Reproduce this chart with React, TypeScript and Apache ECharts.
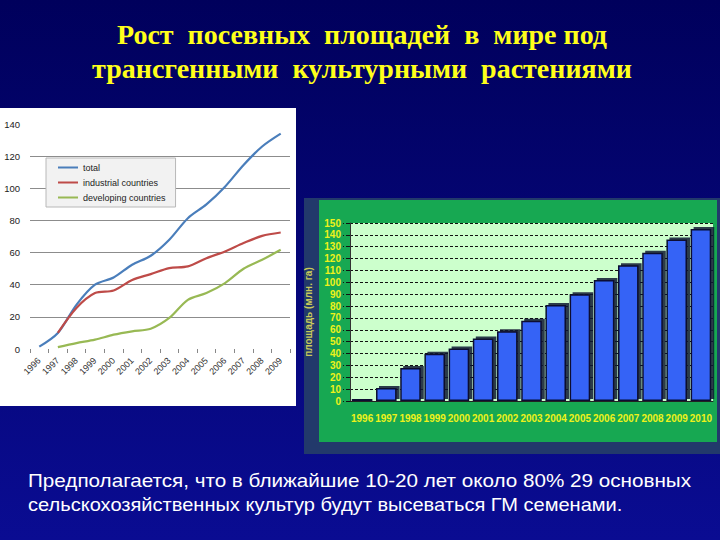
import React, { useEffect, useRef } from "react";
import * as echarts from "echarts";

const titleLines = [
  "Рост  посевных  площадей  в  мире под",
  "трансгенными  культурными  растениями",
];
const noteLines = [
  "Предполагается, что в ближайшие 10-20 лет около 80% 29 основных",
  "сельскохозяйственных культур будут высеваться ГМ семенами.",
];

const lineYears = ["1996", "1997", "1998", "1999", "2000", "2001", "2002", "2003", "2004", "2005", "2006", "2007", "2008", "2009"];
const totalValues = [1.5, 10, 27.5, 40, 44.5, 52.4, 58, 68, 81.4, 90, 101, 114.5, 126, 134];
const industrialValues = [null, 10, 25.5, 34.8, 36.4, 43, 46.6, 50.3, 51.4, 56.5, 60.7, 65.9, 70.4, 72.5];
const developingValues = [null, 1.2, 3.7, 5.8, 8.9, 11, 12.6, 19.3, 30.6, 34.8, 41, 49.9, 55.5, 61.7];
const lineNames = ["total", "industrial countries", "developing countries"];

const barYears = ["1996", "1997", "1998", "1999", "2000", "2001", "2002", "2003", "2004", "2005", "2006", "2007", "2008", "2009", "2010"];
const barValues = [1.7, 11, 27.8, 39.9, 44.2, 52.6, 58.7, 67.7, 81, 90, 102, 114.3, 125, 136, 145];
const barAxisName = "площадь (млн. га)";

export default function App() {
  const ref = useRef<HTMLDivElement>(null);
  useEffect(() => {
    if (!ref.current) return;
    const chart = echarts.init(ref.current, undefined, { renderer: "svg" });
    const sans = "Liberation Sans, Arial, sans-serif";
    const yellowBold = { color: "#eef21a", fontWeight: "bold" as const, fontFamily: sans, fontSize: 10 };
    const titleFont = "bold 28px 'Liberation Serif', 'Times New Roman', serif";
    const noteFont = "18px 'Liberation Sans', Arial, sans-serif";
    chart.setOption({
      animation: false,
      backgroundColor: {
        type: "linear", x: 0, y: 0, x2: 0, y2: 1,
        colorStops: [
          { offset: 0, color: "#00005c" },
          { offset: 1, color: "#0a0c92" },
        ],
      },
      graphic: [
        { type: "rect", z: -10, shape: { x: 0, y: 108, width: 296, height: 298 }, style: { fill: "#ffffff" } },
        { type: "rect", z: -10, shape: { x: 304, y: 198, width: 416, height: 256 }, style: { fill: "#22396b" } },
        { type: "rect", z: -9, shape: { x: 319, y: 200, width: 398, height: 242 }, style: { fill: "#17a852" } },
        {
          type: "text", z: 100, x: 362, y: 34, scaleX: 1.0,
          style: { text: titleLines[0], fill: "#ffff1a", font: titleFont, textAlign: "center", textVerticalAlign: "middle" },
        },
        {
          type: "text", z: 100, x: 362, y: 68, scaleX: 1.0,
          style: { text: titleLines[1], fill: "#ffff1a", font: titleFont, textAlign: "center", textVerticalAlign: "middle" },
        },
        {
          type: "text", z: 100, x: 28, y: 480, scaleX: 1.148,
          style: { text: noteLines[0], fill: "#ffffff", font: noteFont, textAlign: "left", textVerticalAlign: "middle" },
        },
        {
          type: "text", z: 100, x: 28, y: 505, scaleX: 1.114,
          style: { text: noteLines[1], fill: "#ffffff", font: noteFont, textAlign: "left", textVerticalAlign: "middle" },
        },
      ],
      legend: {
        data: lineNames,
        orient: "vertical",
        left: 46,
        top: 158,
        icon: "rect",
        backgroundColor: "#f2f2f2",
        borderColor: "#b8b8b8",
        borderWidth: 1,
        padding: [4, 10, 4, 12],
        itemGap: 4,
        itemWidth: 20,
        itemHeight: 2,
        textStyle: { fontSize: 9, lineHeight: 11, color: "#222", fontFamily: sans },
      },
      grid: [
        { left: 30, width: 260, top: 124, height: 225 },
        { left: 350, width: 363, top: 223, height: 178, show: true, backgroundColor: "#ccffcc", borderWidth: 0 },
      ],
      xAxis: [
        {
          type: "category", gridIndex: 0, data: lineYears, boundaryGap: true,
          axisLine: { show: false },
          axisTick: { show: true, length: 4, lineStyle: { color: "#888" } },
          axisLabel: { rotate: 45, fontSize: 9, color: "#333", margin: 10, interval: 0, fontFamily: sans },
          splitLine: { show: false },
        },
        {
          type: "category", gridIndex: 1, data: barYears,
          axisLine: { show: true, lineStyle: { color: "#222", width: 1 } },
          axisTick: { show: false },
          axisLabel: { ...yellowBold, interval: 0, margin: 12 },
        },
      ],
      yAxis: [
        {
          type: "value", gridIndex: 0, min: 0, max: 140, interval: 20,
          axisLine: { show: false }, axisTick: { show: false },
          axisLabel: { fontSize: 9.5, color: "#222", margin: 10, fontFamily: sans },
          splitLine: { show: true, showMinLine: false, showMaxLine: false, lineStyle: { color: "#8c8c8c", width: 1 } },
        },
        {
          type: "value", gridIndex: 1, min: 0, max: 150, interval: 10,
          name: barAxisName, nameLocation: "middle", nameRotate: 90, nameGap: 37,
          nameTextStyle: { color: "#c9c85a", fontWeight: "bold", fontSize: 10, fontFamily: sans },
          axisLine: { show: true, lineStyle: { color: "#333", width: 1 } },
          axisTick: { show: true, inside: false, length: 7, lineStyle: { color: "#111", type: "dashed", width: 1 } },
          axisLabel: { ...yellowBold, margin: 9 },
          splitLine: { show: true, lineStyle: { color: "#111", type: [3, 2], width: 1 } },
        },
      ],
      series: [
        {
          name: lineNames[0], type: "line", xAxisIndex: 0, yAxisIndex: 0, data: totalValues,
          symbol: "none", smooth: 0.3, lineStyle: { color: "#4a7ebb", width: 2.2 }, itemStyle: { color: "#4a7ebb" },
        },
        {
          name: lineNames[1], type: "line", xAxisIndex: 0, yAxisIndex: 0, data: industrialValues,
          symbol: "none", smooth: 0.3, lineStyle: { color: "#be4b48", width: 2.2 }, itemStyle: { color: "#be4b48" },
        },
        {
          name: lineNames[2], type: "line", xAxisIndex: 0, yAxisIndex: 0, data: developingValues,
          symbol: "none", smooth: 0.3, lineStyle: { color: "#98b954", width: 2.2 }, itemStyle: { color: "#98b954" },
        },
        {
          name: "area", type: "bar", xAxisIndex: 1, yAxisIndex: 1, data: barValues,
          barCategoryGap: "15%",
          itemStyle: {
            color: "#3564f6", borderColor: "#0b0f30", borderWidth: 1.5,
            shadowColor: "rgba(10,20,50,0.85)", shadowOffsetX: 3, shadowOffsetY: -2, shadowBlur: 0,
          },
        },
      ],
    });
    return () => chart.dispose();
  }, []);
  return <div ref={ref} style={{ position: "fixed", left: 0, top: 0, width: 720, height: 540 }} />;
}
